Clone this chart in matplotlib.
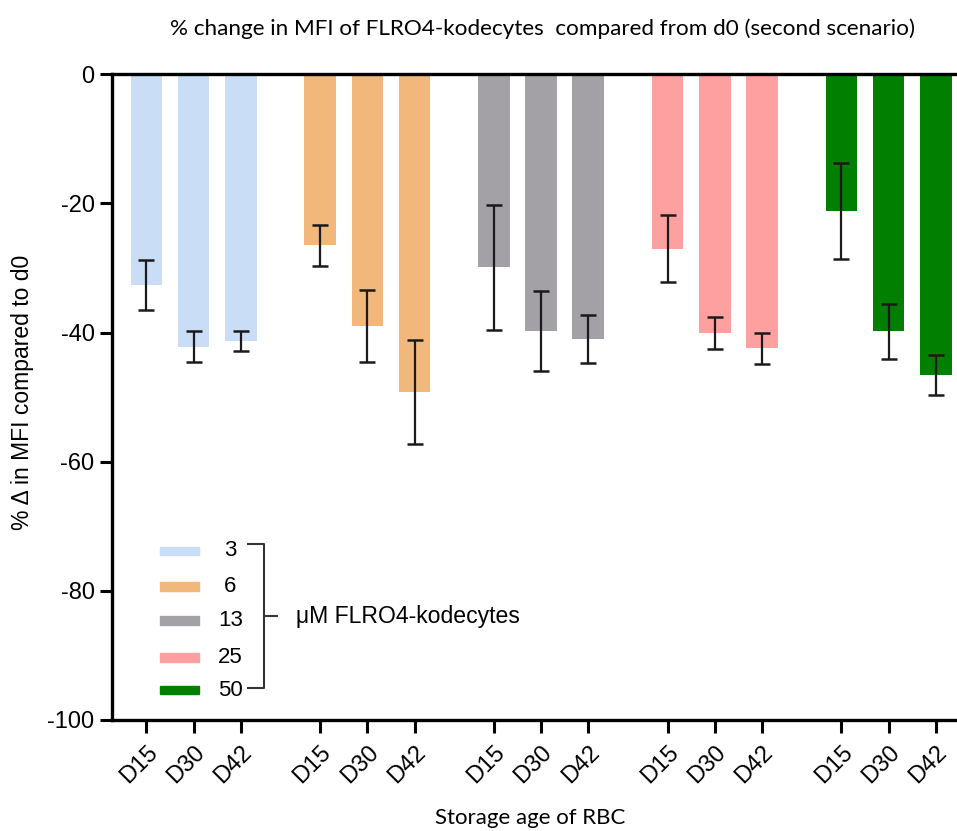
import numpy as np
import matplotlib.pyplot as plt
from matplotlib.patches import Rectangle
from matplotlib.lines import Line2D

plt.rcParams['font.family'] = ['Liberation Sans', 'DejaVu Sans']
plt.rcParams['axes.unicode_minus'] = False

days = ['D15', 'D30', 'D42']
conc = ['3', '6', '13', '25', '50']
colors = ['#C9DDF6', '#F1B77B', '#A3A1A6', '#FFA0A0', '#007F00']

# mean % change vs d0 for each concentration (D15, D30, D42)
pct_3 = [-32.6, -42.2, -41.3]
pct_6 = [-26.5, -39.0, -49.2]
pct_13 = [-29.9, -39.8, -41.0]
pct_25 = [-27.0, -40.1, -42.4]
pct_50 = [-21.2, -39.8, -46.5]

err_3 = [3.9, 2.4, 1.5]
err_6 = [3.2, 5.6, 8.0]
err_13 = [9.7, 6.2, 3.7]
err_25 = [5.2, 2.5, 2.4]
err_50 = [7.4, 4.3, 3.1]

means = [pct_3, pct_6, pct_13, pct_25, pct_50]
errs = [err_3, err_6, err_13, err_25, err_50]

fig = plt.figure(figsize=(9.57, 8.31), dpi=100)
ax = fig.add_axes([0.117, 0.1336, 0.883, 0.777])

step = 3.68
xticks = []
xlabels = []
for g in range(len(conc)):
    x = g * step + np.arange(len(days))
    ax.bar(x, means[g], width=0.67, color=colors[g], zorder=1)
    ax.errorbar(x, means[g], yerr=errs[g], fmt='none', ecolor='#1a1a1a',
                elinewidth=1.6, capsize=6, capthick=1.8, zorder=2)
    xticks += list(x)
    xlabels += days

ax.set_ylim(-100, 0)
ax.set_xlim(-0.73, 17.17)
ax.set_yticks(range(-100, 1, 20))
ax.set_xticks(xticks)
ax.set_xticklabels(xlabels, rotation=45, ha='right', va='top',
                   rotation_mode='anchor')

for s in ['left', 'bottom', 'top']:
    ax.spines[s].set_linewidth(2.4)
ax.spines['right'].set_visible(False)
ax.tick_params(axis='y', length=9, width=2.2, labelsize=17, pad=3.5)
ax.tick_params(axis='x', length=9.5, width=2.2, labelsize=17, pad=6)

# legend with bracket
tr = ax.transAxes
rows = [0.262, 0.207, 0.154, 0.097, 0.046]
for i in range(len(conc)):
    ax.add_patch(Rectangle((0.057, rows[i] - 0.0065), 0.046, 0.013,
                           color=colors[i], transform=tr, clip_on=False))
    ax.text(0.140, rows[i], conc[i], transform=tr, ha='center', va='center',
            fontsize=16)
bk = dict(color='#333333', lw=1.5, transform=tr)
ax.add_line(Line2D([0.161, 0.180, 0.180, 0.161], [0.272, 0.272, 0.050, 0.050], **bk))
ax.add_line(Line2D([0.180, 0.195], [0.161, 0.161], **bk))
ax.text(0.218, 0.161, 'μM FLRO4-kodecytes', transform=tr, ha='left',
        va='center', fontsize=16.6)

fig.text(0.567, 0.966, '% change in MFI of FLRO4-kodecytes  compared from d0 (second scenario)',
         ha='center', va='center', fontsize=16.2, family=['Lato', 'DejaVu Sans'])
fig.text(0.023, 0.528, '% Δ in MFI compared to d0', rotation=90, ha='center',
         va='center', fontsize=16.5)
fig.text(0.554, 0.016, 'Storage age of RBC', ha='center', va='center',
         fontsize=16, family=['Lato', 'DejaVu Sans'])

fig.savefig('out.png', dpi=100)
